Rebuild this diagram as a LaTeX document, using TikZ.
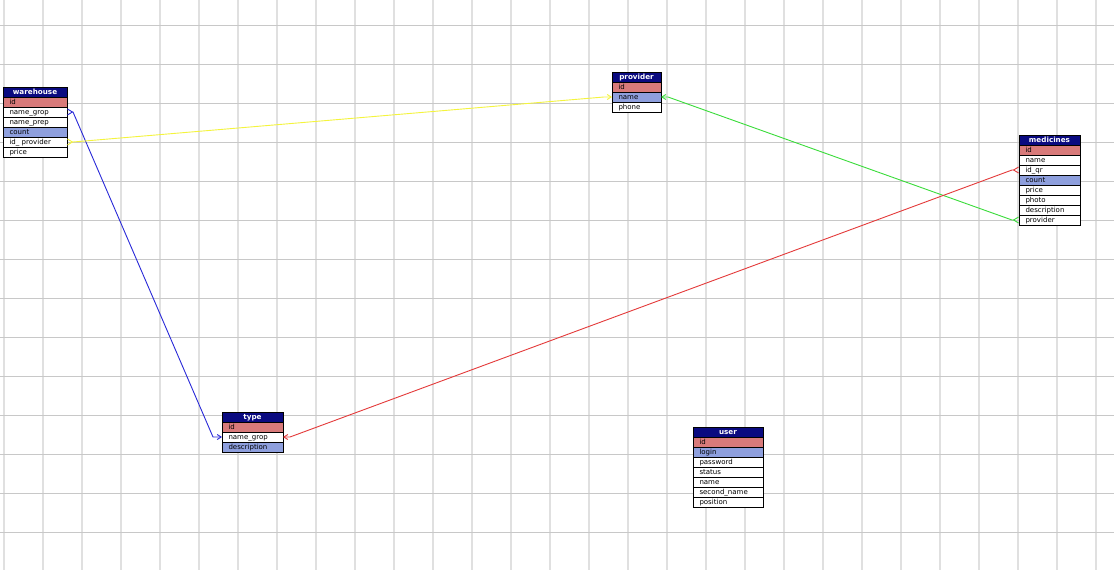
\documentclass[tikz,border=0pt]{standalone}
\usepackage{fontspec}
\newfontfamily\erfont{DejaVu Sans}
\usetikzlibrary{arrows.meta,positioning}
\definecolor{ERNavy}{HTML}{0A0A80}
\definecolor{ERKey}{HTML}{D87A7A}
\definecolor{ERIdx}{HTML}{8E9FDD}
\definecolor{ERGridV}{HTML}{E0E0E0}
\definecolor{ERGridH}{HTML}{C8C8C8}
\definecolor{ERRed}{HTML}{E43A3A}
\definecolor{ERBlue}{HTML}{2A2AD8}
\definecolor{ERGreen}{HTML}{3ADC3A}
\definecolor{ERYellow}{HTML}{F4F43C}

\begin{document}
\begin{tikzpicture}[
  x=1pt,y=-1pt,
  gridv/.style={ERGridV,line width=1.6pt},
  gridh/.style={ERGridH,line width=0.9pt},
  fld/.style={draw=black,line width=0.8pt,fill=white,text width=#1,align=left,
    inner xsep=6.5pt,inner ysep=0pt,minimum height=10pt,outer sep=0pt,
    text height=6.2pt,text depth=1.2pt,
    font=\erfont\fontsize{7}{7}\selectfont},
  pkrow/.style={fld=#1,fill=ERKey},
  keyrow/.style={fld=#1,fill=ERIdx},
  hdr/.style={fld=#1,fill=ERNavy,text=white,align=center,anchor=north west,
    font=\erfont\bfseries\fontsize{7.2}{7}\selectfont},
  link/.style={line width=0.9pt,color=#1},
  crow/.tip={Straight Barb[reversed,length=5pt,width=6pt]},
  into/.tip={Straight Barb[length=4pt,width=5pt]}
]
  \useasboundingbox (0,0) rectangle (1114,570);
  \fill[white] (0,0) rectangle (1114,570);
  \foreach \gx in {0,...,28}
    \draw[gridv] ({4+39*\gx},0) -- ({4+39*\gx},570);
  \foreach \gy in {0,...,13}
    \draw[gridh] (0,{25+39*\gy}) -- (1114,{25+39*\gy});

  % warehouse
  \node[hdr=51] (wh) at (3,87) {warehouse};
  \node[pkrow=51,below=0pt of wh] (wh-id) {id};
  \node[fld=51,below=0pt of wh-id] (wh-grop) {name\_grop};
  \node[fld=51,below=0pt of wh-grop] (wh-prep) {name\_prep};
  \node[keyrow=51,below=0pt of wh-prep] (wh-count) {count};
  \node[fld=51,below=0pt of wh-count] (wh-prov) {id\_ provider};
  \node[fld=51,below=0pt of wh-prov] (wh-price) {price};

  % provider
  \node[hdr=36] (pv) at (612,72) {provider};
  \node[pkrow=36,below=0pt of pv] (pv-id) {id};
  \node[keyrow=36,below=0pt of pv-id] (pv-name) {name};
  \node[fld=36,below=0pt of pv-name] (pv-phone) {phone};

  % medicines
  \node[hdr=48] (md) at (1019,135) {medicines};
  \node[pkrow=48,below=0pt of md] (md-id) {id};
  \node[fld=48,below=0pt of md-id] (md-name) {name};
  \node[fld=48,below=0pt of md-name] (md-qr) {id\_qr};
  \node[keyrow=48,below=0pt of md-qr] (md-count) {count};
  \node[fld=48,below=0pt of md-count] (md-price) {price};
  \node[fld=48,below=0pt of md-price] (md-photo) {photo};
  \node[fld=48,below=0pt of md-photo] (md-desc) {description};
  \node[fld=48,below=0pt of md-desc] (md-prov) {provider};

  % type
  \node[hdr=48] (ty) at (222,412) {type};
  \node[pkrow=48,below=0pt of ty] (ty-id) {id};
  \node[fld=48,below=0pt of ty-id] (ty-grop) {name\_grop};
  \node[keyrow=48,below=0pt of ty-grop] (ty-desc) {description};

  % user
  \node[hdr=57] (us) at (693,427) {user};
  \node[pkrow=57,below=0pt of us] (us-id) {id};
  \node[keyrow=57,below=0pt of us-id] (us-login) {login};
  \node[fld=57,below=0pt of us-login] (us-pass) {password};
  \node[fld=57,below=0pt of us-pass] (us-status) {status};
  \node[fld=57,below=0pt of us-status] (us-name) {name};
  \node[fld=57,below=0pt of us-name] (us-second) {second\_name};
  \node[fld=57,below=0pt of us-second] (us-pos) {position};

  % links
  \draw[link=ERBlue,crow-into] (wh-grop.east) -- ++(6,0) -- ([xshift=-9pt]ty-grop.west) -- (ty-grop.west);
  \draw[link=ERYellow,crow-into] (wh-prov.east) -- ++(6,0) -- ([xshift=-8pt]pv-name.west) -- (pv-name.west);
  \draw[link=ERGreen,into-crow] (pv-name.east) -- ++(7,0) -- ([xshift=-7pt]md-prov.west) -- (md-prov.west);
  \draw[link=ERRed,crow-into] (md-qr.west) -- ++(-7,0) -- ([xshift=7pt]ty-grop.east) -- (ty-grop.east);
\end{tikzpicture}
\end{document}
